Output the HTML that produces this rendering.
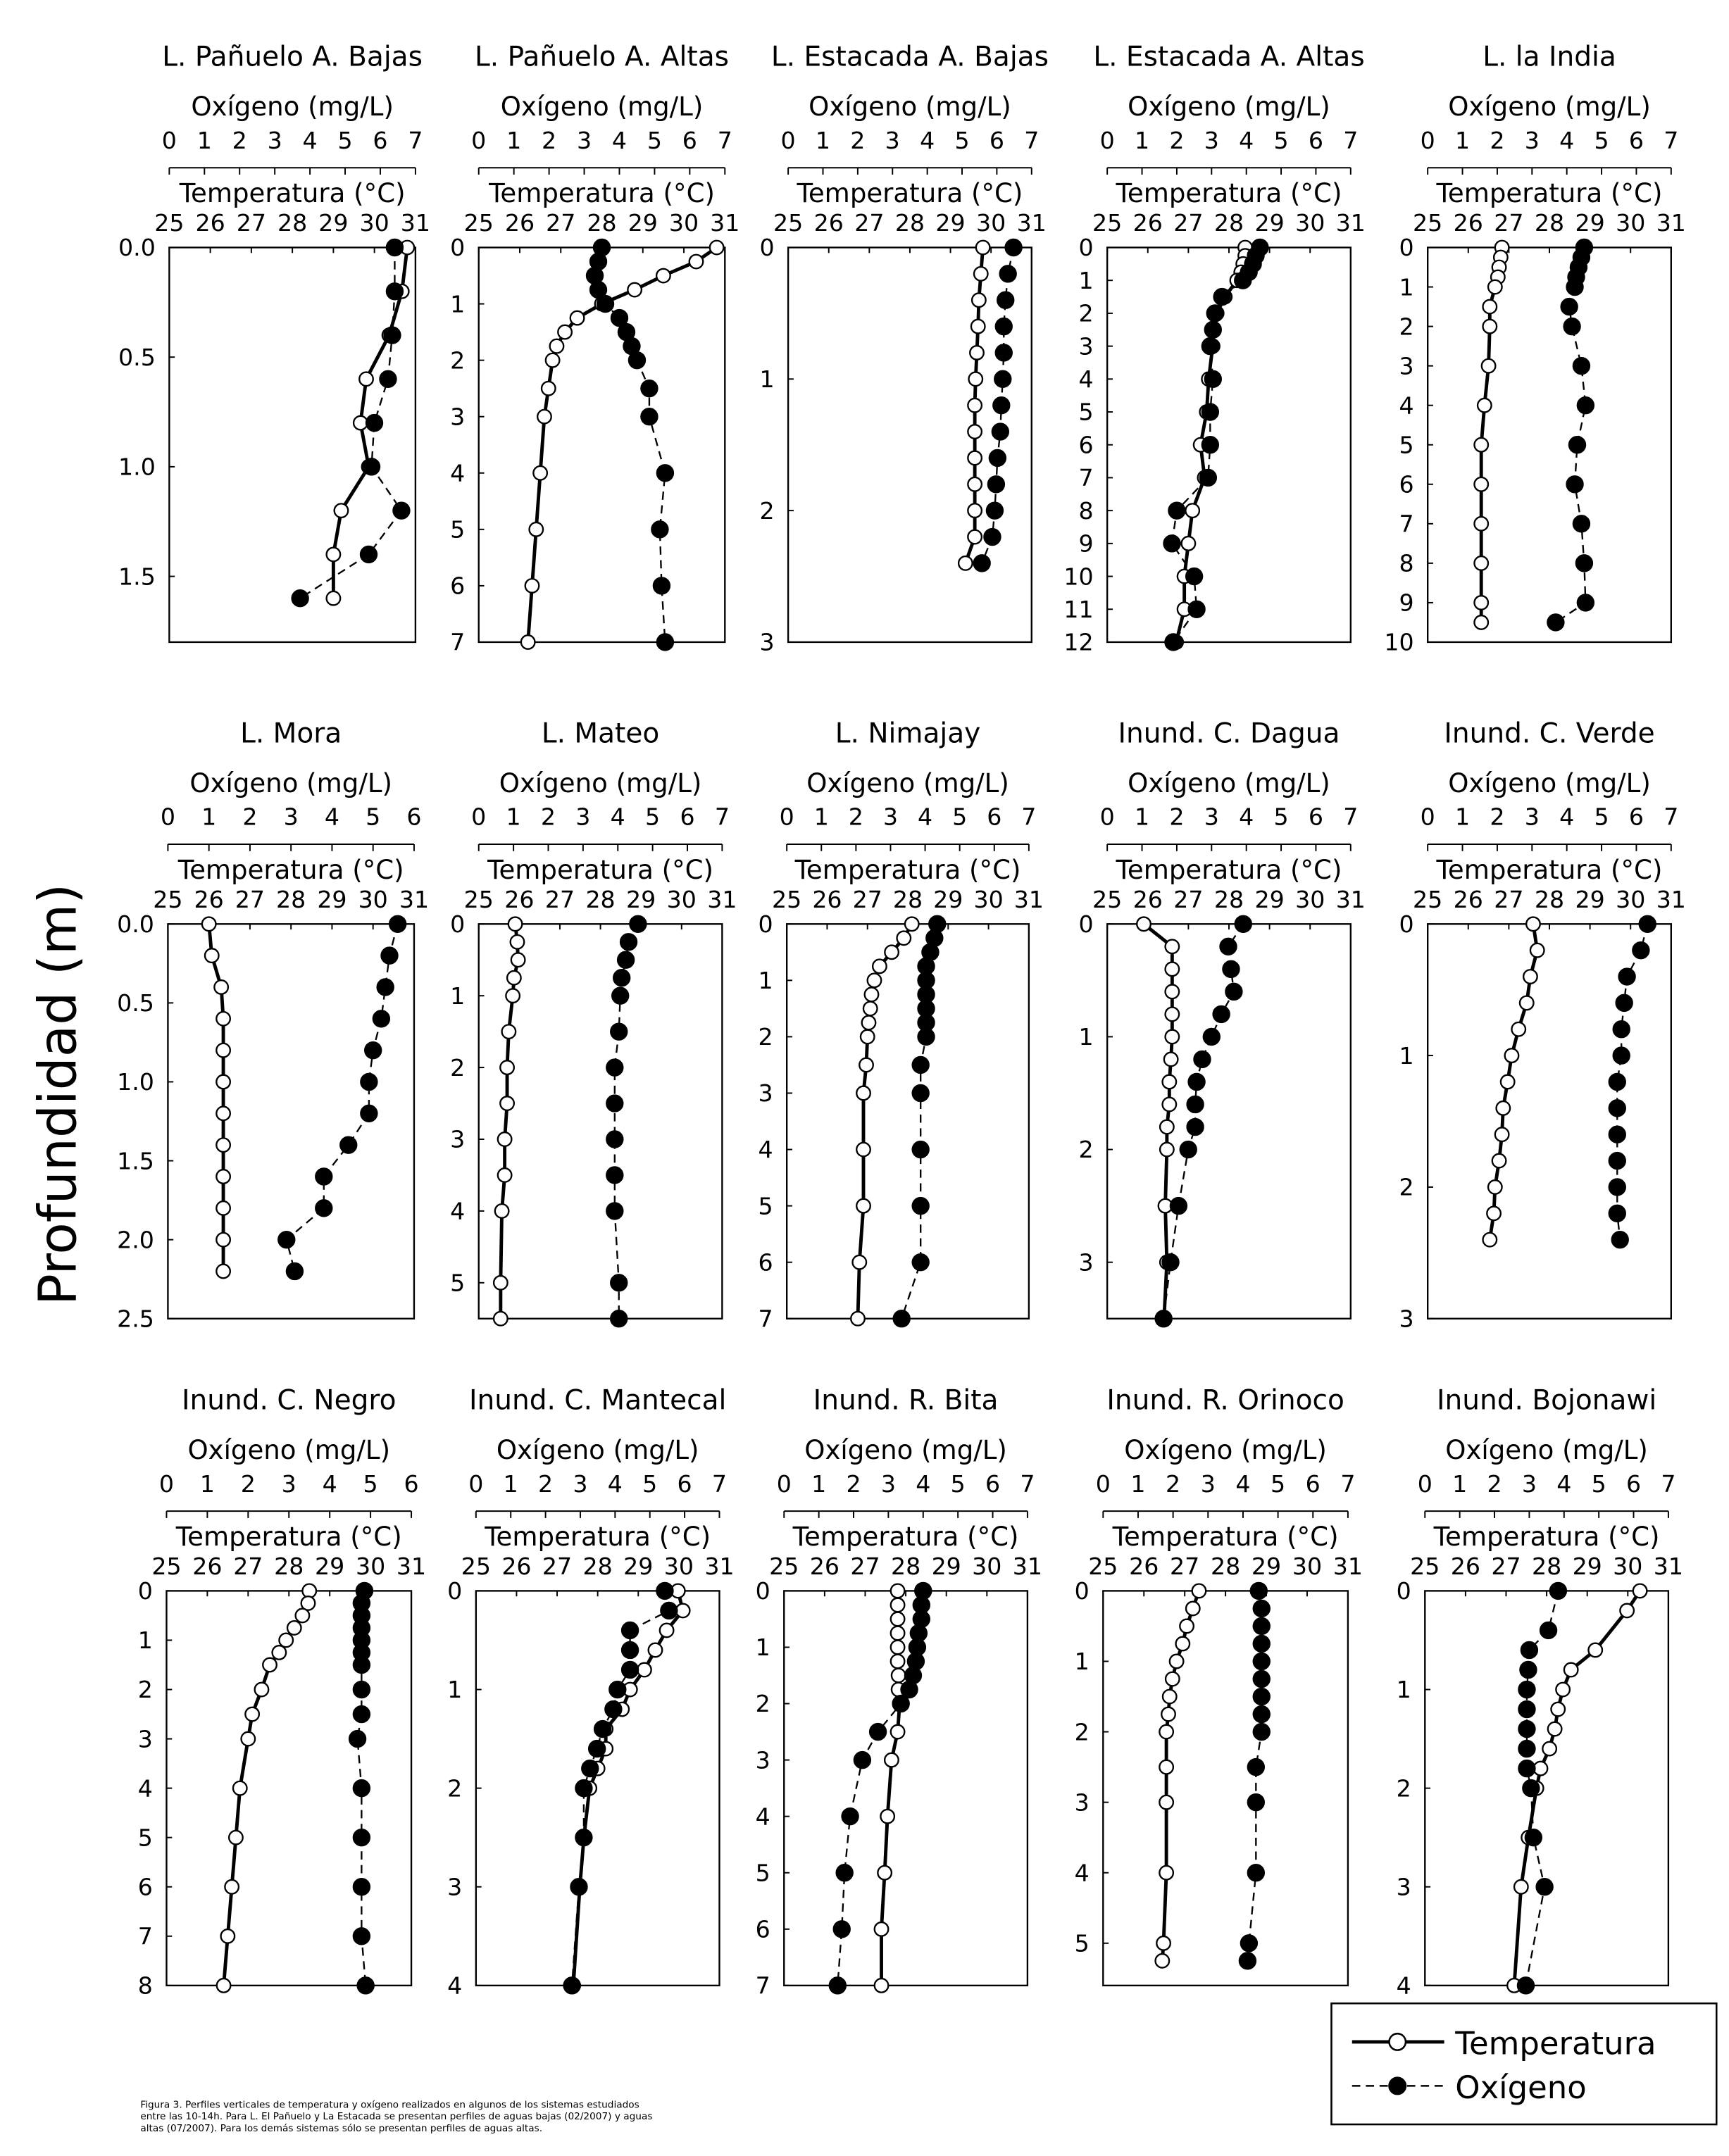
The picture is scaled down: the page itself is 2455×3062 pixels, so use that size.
<!DOCTYPE html>
<html><head><meta charset="utf-8"><style>
html,body{margin:0;padding:0;background:#fff;}
svg{display:block;font-family:"DejaVu Sans","Liberation Sans",Arial,sans-serif;}
</style></head><body>
<svg id="fig" xmlns="http://www.w3.org/2000/svg" width="2455" height="3062" viewBox="0 0 1257 1568">
<rect width="1257" height="1568" fill="#fff"/>
<text x="0" y="0" transform="translate(55,796) rotate(-90)" text-anchor="middle" font-size="38">Profundidad (m)</text>
<g>
<rect x="968" y="1457" width="280" height="88" fill="#fff" stroke="#000" stroke-width="1.3"/>
<line x1="983" y1="1485" x2="1050" y2="1485" stroke="#000" stroke-width="2.5"/>
<circle cx="1016" cy="1485" r="6" fill="#fff" stroke="#000" stroke-width="1.3"/>
<text x="1058" y="1494" font-size="23">Temperatura</text>
<line x1="983" y1="1517" x2="1050" y2="1517" stroke="#000" stroke-width="1.3" stroke-dasharray="6,4"/>
<circle cx="1016" cy="1517" r="6" fill="#000" stroke="#000" stroke-width="1.3"/>
<text x="1058" y="1526" font-size="23">Oxígeno</text>
</g>
<text font-size="7" x="102" y="1533">
<tspan x="102" dy="0">Figura 3. Perfiles verticales de temperatura y oxígeno realizados en algunos de los sistemas estudiados</tspan>
<tspan x="102" dy="8.5">entre las 10-14h. Para L. El Pañuelo y La Estacada se presentan perfiles de aguas bajas (02/2007) y aguas</tspan>
<tspan x="102" dy="8.5">altas (07/2007). Para los demás sistemas sólo se presentan perfiles de aguas altas.</tspan>
</text>
</svg>
<script>
// ---- data (depth m, temperature °C, oxygen mg/L) ----
const titles = ["L. Pañuelo A. Bajas","L. Pañuelo A. Altas","L. Estacada A. Bajas","L. Estacada A. Altas","L. la India","L. Mora","L. Mateo","L. Nimajay","Inund. C. Dagua","Inund. C. Verde","Inund. C. Negro","Inund. C. Mantecal","Inund. R. Bita","Inund. R. Orinoco","Inund. Bojonawi"];
const depth1 = [0,0.2,0.4,0.6,0.8,1.0,1.2,1.4,1.6];
const temp1 = [30.8,30.67,30.36,29.8,29.66,29.86,29.19,29.0,29.0];
const oxy1 = [6.41,6.41,6.34,6.22,5.83,5.75,6.6,5.67,3.72];
const depth2 = [0,0.25,0.5,0.75,1,1.25,1.5,1.75,2,2.5,3,4,5,6,7];
const temp2 = [30.8,30.3,29.5,28.8,28.0,27.4,27.1,26.9,26.8,26.7,26.6,26.5,26.4,26.3,26.2];
const oxy2 = [3.5,3.4,3.3,3.4,3.6,4.0,4.2,4.35,4.5,4.85,4.85,5.3,5.15,5.2,5.3];
const depth3 = [0,0.2,0.4,0.6,0.8,1.0,1.2,1.4,1.6,1.8,2.0,2.2,2.4];
const temp3 = [29.8,29.75,29.7,29.68,29.65,29.62,29.6,29.6,29.6,29.6,29.6,29.6,29.37];
const oxy3 = [6.48,6.32,6.25,6.2,6.2,6.17,6.13,6.1,6.02,5.98,5.94,5.87,5.57];
const depth4 = [0,0.25,0.5,0.75,1,1.5,2,2.5,3,4,5,6,7,8,9,10,11,12];
const temp4 = [28.4,28.4,28.35,28.3,28.2,27.9,27.7,27.6,27.6,27.5,27.45,27.3,27.4,27.1,27.0,26.9,26.9,26.7];
const oxy4 = [4.39,4.27,4.19,4.07,3.9,3.3,3.1,3.04,2.96,3.04,2.96,2.96,2.9,2.0,1.86,2.5,2.57,1.9];
const depth5 = [0,0.25,0.5,0.75,1,1.5,2,3,4,5,6,7,8,9,9.5];
const temp5 = [26.83,26.8,26.76,26.73,26.66,26.53,26.53,26.5,26.4,26.32,26.32,26.32,26.32,26.32,26.32];
const oxy5 = [4.5,4.42,4.34,4.27,4.23,4.07,4.15,4.42,4.54,4.3,4.23,4.42,4.5,4.54,3.68];
const depth6 = [0,0.2,0.4,0.6,0.8,1.0,1.2,1.4,1.6,1.8,2.0,2.2];
const temp6 = [26.0,26.07,26.3,26.35,26.35,26.35,26.35,26.35,26.35,26.35,26.35,26.35];
const oxy6 = [5.6,5.4,5.3,5.2,5.0,4.9,4.9,4.4,3.8,3.8,2.89,3.09];
const depth7 = [0,0.25,0.5,0.75,1,1.5,2,2.5,3,3.5,4,5,5.5];
const temp7 = [25.9,25.95,25.97,25.87,25.84,25.74,25.7,25.7,25.64,25.64,25.57,25.54,25.54];
const oxy7 = [4.58,4.31,4.23,4.11,4.07,4.03,3.91,3.91,3.91,3.91,3.91,4.03,4.03];
const depth8 = [0,0.25,0.5,0.75,1,1.25,1.5,1.75,2,2.5,3,4,5,6,7];
const temp8 = [28.1,27.9,27.6,27.3,27.17,27.1,27.07,27.03,27.0,26.97,26.9,26.9,26.9,26.8,26.76];
const oxy8 = [4.35,4.27,4.15,4.03,4.03,4.03,4.03,4.03,4.03,3.87,3.87,3.87,3.87,3.87,3.32];
const depth9 = [0,0.2,0.4,0.6,0.8,1.0,1.2,1.4,1.6,1.8,2.0,2.5,3.0,3.5];
const temp9 = [25.9,26.6,26.6,26.6,26.6,26.6,26.57,26.53,26.53,26.47,26.47,26.43,26.47,26.4];
const oxy9 = [3.91,3.48,3.56,3.64,3.28,3.0,2.73,2.57,2.53,2.53,2.33,2.05,1.82,1.62];
const depth10 = [0,0.2,0.4,0.6,0.8,1.0,1.2,1.4,1.6,1.8,2.0,2.2,2.4];
const temp10 = [27.6,27.7,27.53,27.44,27.24,27.07,26.97,26.86,26.83,26.76,26.66,26.63,26.53];
const oxy10 = [6.32,6.13,5.73,5.65,5.57,5.57,5.45,5.45,5.45,5.45,5.45,5.45,5.53];
const depth11 = [0,0.25,0.5,0.75,1,1.25,1.5,2,2.5,3,4,5,6,7,8];
const temp11 = [28.5,28.47,28.33,28.13,27.93,27.76,27.53,27.33,27.1,27.0,26.8,26.7,26.6,26.5,26.4];
const oxy11 = [4.85,4.78,4.78,4.78,4.78,4.78,4.78,4.78,4.78,4.68,4.78,4.78,4.78,4.78,4.88];
const depth12 = [0,0.2,0.4,0.6,0.8,1.0,1.2,1.4,1.6,1.8,2.0,2.5,3.0,4.0];
const temp12 = [29.98,30.1,29.7,29.42,29.15,28.8,28.6,28.2,28.2,28.0,27.8,27.66,27.56,27.4];
const oxy12 = [5.43,5.55,4.43,4.43,4.43,4.07,3.95,3.64,3.48,3.28,3.1,3.1,2.96,2.76];
const depth13 = [0,0.25,0.5,0.75,1,1.25,1.5,1.75,2,2.5,3,4,5,6,7];
const temp13 = [27.8,27.8,27.8,27.8,27.8,27.8,27.82,27.82,27.85,27.8,27.65,27.55,27.48,27.4,27.4];
const oxy13 = [4.0,3.95,3.95,3.87,3.83,3.79,3.71,3.6,3.36,2.7,2.25,1.9,1.74,1.66,1.54];
const depth14 = [0,0.25,0.5,0.75,1,1.25,1.5,1.75,2,2.5,3,4,5,5.25];
const temp14 = [27.35,27.2,27.05,26.95,26.8,26.7,26.63,26.6,26.55,26.55,26.55,26.55,26.48,26.45];
const oxy14 = [4.45,4.53,4.53,4.53,4.53,4.53,4.53,4.53,4.53,4.37,4.37,4.37,4.17,4.13];
const depth15T = [0,0.2,0.6,0.8,1.0,1.2,1.4,1.6,1.8,2.0,2.5,3.0,4.0];
const temp15 = [30.3,29.98,29.2,28.6,28.4,28.28,28.2,28.07,27.85,27.75,27.55,27.37,27.2];
const depth15O = [0,0.4,0.6,0.8,1.0,1.2,1.4,1.6,1.8,2.0,2.5,3.0,4.0];
const oxy15 = [3.83,3.55,3.0,2.97,2.93,2.93,2.93,2.93,2.93,3.05,3.12,3.44,2.9];
const depthMax = [1.8,7,3,12,10,2.5,5.5,7,3.5,3,8,4,7,5.6,4];
const depthTicks = [["0.0","0.5","1.0","1.5"],["0","1","2","3","4","5","6","7"],["0","1","2","3"],["0","1","2","3","4","5","6","7","8","9","10","11","12"],["0","1","2","3","4","5","6","7","8","9","10"],["0.0","0.5","1.0","1.5","2.0","2.5"],["0","1","2","3","4","5"],["0","1","2","3","4","5","6","7"],["0","1","2","3"],["0","1","2","3"],["0","1","2","3","4","5","6","7","8"],["0","1","2","3","4"],["0","1","2","3","4","5","6","7"],["0","1","2","3","4","5"],["0","1","2","3","4"]];
const oxyMax = [7,7,7,7,7,6,7,7,7,7,6,7,7,7,7];
const tempTicks = ["25","26","27","28","29","30","31"];

// ---- layout ----
const series = [
 [depth1,temp1,depth1,oxy1],[depth2,temp2,depth2,oxy2],[depth3,temp3,depth3,oxy3],[depth4,temp4,depth4,oxy4],[depth5,temp5,depth5,oxy5],
 [depth6,temp6,depth6,oxy6],[depth7,temp7,depth7,oxy7],[depth8,temp8,depth8,oxy8],[depth9,temp9,depth9,oxy9],[depth10,temp10,depth10,oxy10],
 [depth11,temp11,depth11,oxy11],[depth12,temp12,depth12,oxy12],[depth13,temp13,depth13,oxy13],[depth14,temp14,depth14,oxy14],[depth15T,temp15,depth15O,oxy15]];
const colX = [[[123,302],[348,527],[573,750],[805,982],[1038,1215]],[[122,301],[348,525],[572,748],[805,982],[1038,1215]],[[121,299],[346,523],[570,747],[802,980],[1036,1213]]];
const rowTop = [180,672,1157], rowH = 287;
const NS="http://www.w3.org/2000/svg";
const svg=document.getElementById('fig');
function mk(tag,attrs,parent){const e=document.createElementNS(NS,tag);for(const k in attrs)e.setAttribute(k,attrs[k]);(parent||svg).appendChild(e);return e;}
function txt(s,x,y,size,anchor,parent){const t=mk('text',{x:x,y:y,'font-size':size,'text-anchor':anchor||'middle'},parent);t.textContent=s;return t;}

for(let p=0;p<15;p++){
  const r=Math.floor(p/5), c=p%5;
  const L=colX[r][c][0], R=colX[r][c][1], T=rowTop[r], B=T+rowH, W=R-L;
  const g=mk('g',{});
  
  
  const yS=d=>T+d/depthMax[p]*rowH;
  const tS=v=>L+(v-25)/6*W;
  const oS=v=>L+v/oxyMax[p]*W;
  const cx=(L+R)/2;
  const tt=txt(titles[p],cx,T-132,20,'middle',g);
  
  
  const ol=txt('Oxígeno (mg/L)',cx,T-96,19,'middle',g);
  
  
  mk('line',{x1:L,y1:T-58,x2:R,y2:T-58,stroke:'#000','stroke-width':1},g);
  for(let v=0;v<=oxyMax[p];v++){
    mk('line',{x1:oS(v),y1:T-58,x2:oS(v),y2:T-53,stroke:'#000','stroke-width':1},g);
    const tl=txt(String(v),oS(v),T-72,17,'middle',g);
    
    
  }
  const tl2=txt('Temperatura (°C)',cx,T-33,19,'middle',g);
  
  
  tempTicks.forEach((s,i)=>{
    const v=25+i;
    const e=txt(s,tS(v),T-12,17,'middle',g);
    
    
    mk('line',{x1:tS(v),y1:T,x2:tS(v),y2:T+4,stroke:'#000','stroke-width':1},g);
  });
  mk('rect',{x:L,y:T,width:W,height:rowH,fill:'none',stroke:'#000','stroke-width':1.2},g);
  depthTicks[p].forEach(s=>{
    const d=parseFloat(s), y=yS(d);
    mk('line',{x1:L,y1:y,x2:L+4,y2:y,stroke:'#000','stroke-width':1},g);
    const e=txt(s,L-10,y+6,17,'end',g);
    
    
  });
  const [dT,tv,dO,ov]=series[p];
  const po=mk('polyline',{points:dO.map((d,i)=>oS(ov[i])+','+yS(d)).join(' '),fill:'none',stroke:'#000','stroke-width':1.2,'stroke-dasharray':'6,4'},g);
  
  
  const pt=mk('polyline',{points:dT.map((d,i)=>tS(tv[i])+','+yS(d)).join(' '),fill:'none',stroke:'#000','stroke-width':2.5},g);
  
  
  dT.forEach((d,i)=>{
    const e=mk('circle',{cx:tS(tv[i]),cy:yS(d),r:5,fill:'#fff',stroke:'#000','stroke-width':1.2},g);
    
    
  });
  dO.forEach((d,i)=>{
    const e=mk('circle',{cx:oS(ov[i]),cy:yS(d),r:6,fill:'#000',stroke:'#000','stroke-width':1},g);
    
    
  });
}
</script>
</body></html>
